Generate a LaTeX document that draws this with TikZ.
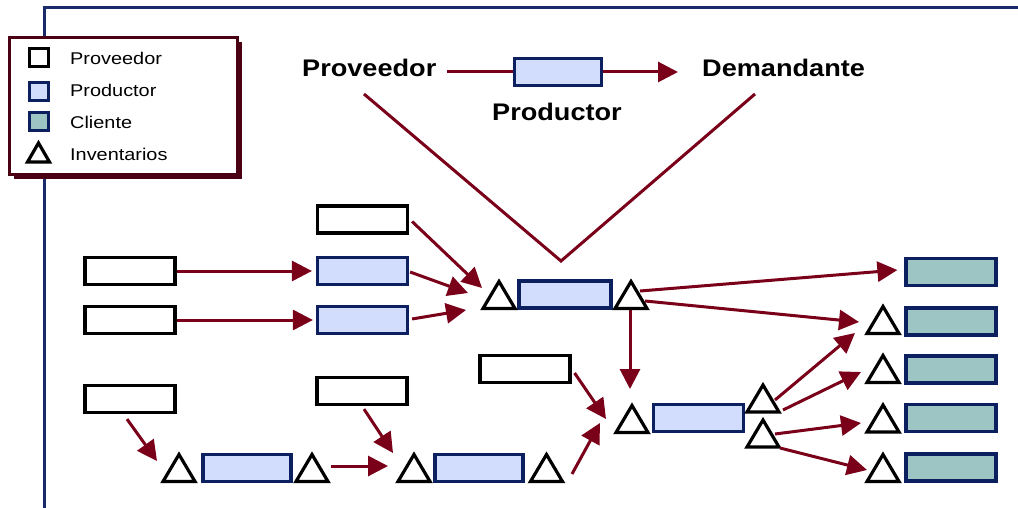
\documentclass[tikz,border=0pt]{standalone}
\usepackage{fontspec}
\setmainfont{Liberation Sans}
\usetikzlibrary{arrows.meta,shadows}

\definecolor{framecol}{HTML}{1B2A6B}
\definecolor{navy}{HTML}{0C1F5E}
\definecolor{prodfill}{HTML}{D2DCFC}
\definecolor{clifill}{HTML}{9CC5C3}
\definecolor{flow}{HTML}{7A0019}
\definecolor{legbord}{HTML}{4A0012}

% horizontally widened text
\newcommand{\widetext}[2]{\scalebox{#1}[1]{#2}}
% inventory triangle: name, centre x, centre y, half width, half height
\newcommand{\invtri}[5]{%
  \coordinate (#1) at (#2,#3);
  \draw[invline] (#2-#4,#3+#5) -- (#2,#3-#5) -- (#2+#4,#3+#5) -- cycle;}

\begin{document}
\begin{tikzpicture}[x=1pt,y=-1pt,
  box/.style={draw, line width=3.2pt, minimum width=90pt, minimum height=27pt, inner sep=0pt},
  prov/.style={box, draw=black, fill=white},
  prod/.style={box, draw=navy, fill=prodfill},
  cli/.style={box, draw=navy, fill=clifill},
  invline/.style={draw=black, fill=white, line width=3.2pt},
  flowarrow/.style={draw=flow, line width=3pt, -{Triangle[length=20pt,width=20pt]}},
  flowline/.style={draw=flow, line width=3pt},
  headtext/.style={inner sep=0pt, font=\fontsize{24}{28}\selectfont\bfseries},
  legtext/.style={inner sep=0pt, anchor=base west, font=\fontsize{17}{20}\selectfont},
  legicon/.style={line width=3pt, minimum width=19pt, minimum height=18pt, inner sep=0pt},
]
\useasboundingbox (0,0) rectangle (1018,508);

% outer frame
\draw[framecol, line width=3pt] (44,510) -- (44,8) -- (1020,8);

% legend
\node[draw=legbord, line width=3.2pt, fill=white, minimum width=228pt, minimum height=137pt,
      drop shadow={shadow xshift=4.5pt, shadow yshift=-5pt, fill=legbord, opacity=1}]
      (legend) at (123.5,106) {};
\node[legicon, draw=black, fill=white] (lprov) at (38.5,57.5) {};
\node[legicon, draw=navy, fill=prodfill] (lprod) at (38.5,92) {};
\node[legicon, draw=navy, fill=clifill] (lcli) at (38.5,122) {};
\invtri{linv}{38.5}{152.5}{11}{9.5}
\node[legtext] (tprov) at (70,64.5) {\widetext{1.17}{Proveedor}};
\node[legtext] (tprod) at (70,96.5) {\widetext{1.17}{Productor}};
\node[legtext] (tcli) at (70,129) {\widetext{1.17}{Cliente}};
\node[legtext] (tinv) at (70,161) {\widetext{1.17}{Inventarios}};

% headline: supplier -> producer -> demander
\node[headtext, anchor=base west] (hp) at (302,77) {\widetext{1.13}{Proveedor}};
\node[headtext, anchor=base west] (hd) at (702,77) {\widetext{1.13}{Demandante}};
\node[headtext, anchor=base] (hprod) at (557,121) {\widetext{1.13}{Productor}};
\node[prod, minimum width=87pt, minimum height=27pt] (hbox) at (558,72) {};
\coordinate (hstart) at (447,72);
\coordinate (hend) at (678,72);
\draw[flowline] (hstart) -- (hbox.west);
\draw[flowarrow] (hbox.east) -- (hend);
\coordinate (vl) at (364,94);
\coordinate (vapex) at (561,261);
\coordinate (vr) at (755,94);
\draw[flowline] (vl) -- (vapex) -- (vr);

% suppliers
\node[prov] (pA) at (362.5,219.5) {};
\node[prov] (pB) at (130,271) {};
\node[prov] (pC) at (130,320) {};
\node[prov] (pD) at (130,399) {};
\node[prov] (pE) at (362,391) {};
\node[prov] (pF) at (525,369) {};

% producers
\node[prod] (qA) at (362.5,271) {};
\node[prod] (qB) at (362.5,320) {};
\node[prod, minimum width=92pt] (qM) at (565,294.5) {};
\node[prod] (qN) at (698.5,418) {};
\node[prod, minimum width=88pt] (qL) at (247,468) {};
\node[prod, minimum width=88pt] (qR) at (479,468) {};

% customers
\node[cli] (c1) at (951,272) {};
\node[cli] (c2) at (951,321.5) {};
\node[cli] (c3) at (951,369.5) {};
\node[cli] (c4) at (951,418) {};
\node[cli] (c5) at (951,467.5) {};

% inventories
\invtri{tM1}{499}{295}{16}{13.5}
\invtri{tM2}{631}{295}{16}{13.5}
\invtri{tN1}{632}{419}{16}{13.5}
\invtri{tN2}{763}{398.5}{16}{13.5}
\invtri{tN3}{763}{433.5}{16}{13.5}
\invtri{tL1}{179}{468}{16}{13.5}
\invtri{tL2}{312}{468}{16}{13.5}
\invtri{tR1}{414}{468}{16}{13.5}
\invtri{tR2}{546.5}{468}{16}{13.5}
\invtri{tc2}{883}{320}{16}{13.5}
\invtri{tc3}{883}{369}{16}{13.5}
\invtri{tc4}{883}{418.5}{16}{13.5}
\invtri{tc5}{883}{468}{16}{13.5}

% material flows
\draw[flowarrow] (pB.east) -- ([xshift=-4pt]qA.west);
\draw[flowarrow] (pC.east) -- ([xshift=-3pt]qB.west);
\draw[flowarrow] ([shift={(3,2)}]pA.east) -- ([shift={(-17,-7)}]tM1);
\draw[flowarrow] ([shift={(1,1)}]qA.east) -- ([shift={(-31,-2)}]tM1);
\draw[flowarrow] ([shift={(3,-1)}]qB.east) -- ([shift={(-33,15)}]tM1);
\draw[flowarrow] ([shift={(9,-4)}]tM2) -- ([shift={(-7,-2)}]c1.west);
\draw[flowarrow] ([shift={(14,6)}]tM2) -- ([shift={(-24,2)}]tc2);
\draw[flowarrow] ([shift={(-1,15)}]tM2) -- ([shift={(-2,-30)}]tN1);
\draw[flowarrow] ([shift={(3,4)}]pF.east) -- ([shift={(-26,0)}]tN1);
\draw[flowarrow] ([shift={(25.5,6)}]tR2) -- ([shift={(-32,4)}]tN1);
\draw[flowarrow] ([shift={(-3,5)}]pD.south) -- ([shift={(-22,-7)}]tL1);
\draw[flowarrow] ([shift={(2,3)}]pE.south) -- ([shift={(-21,-15)}]tR1);
\draw[flowarrow] ([shift={(19,-2)}]tL2) -- ([shift={(-26,-2)}]tR1);
\draw[flowarrow] ([shift={(12,1.5)}]tN2) -- ([shift={(-28,13)}]tc2);
\draw[flowarrow] ([shift={(20,11.5)}]tN2) -- ([shift={(-22,3)}]tc3);
\draw[flowarrow] ([shift={(12,0.5)}]tN3) -- ([shift={(-22,4.5)}]tc4);
\draw[flowarrow] ([shift={(17,14.5)}]tN3) -- ([shift={(-16,2)}]tc5);
\end{tikzpicture}
\end{document}
